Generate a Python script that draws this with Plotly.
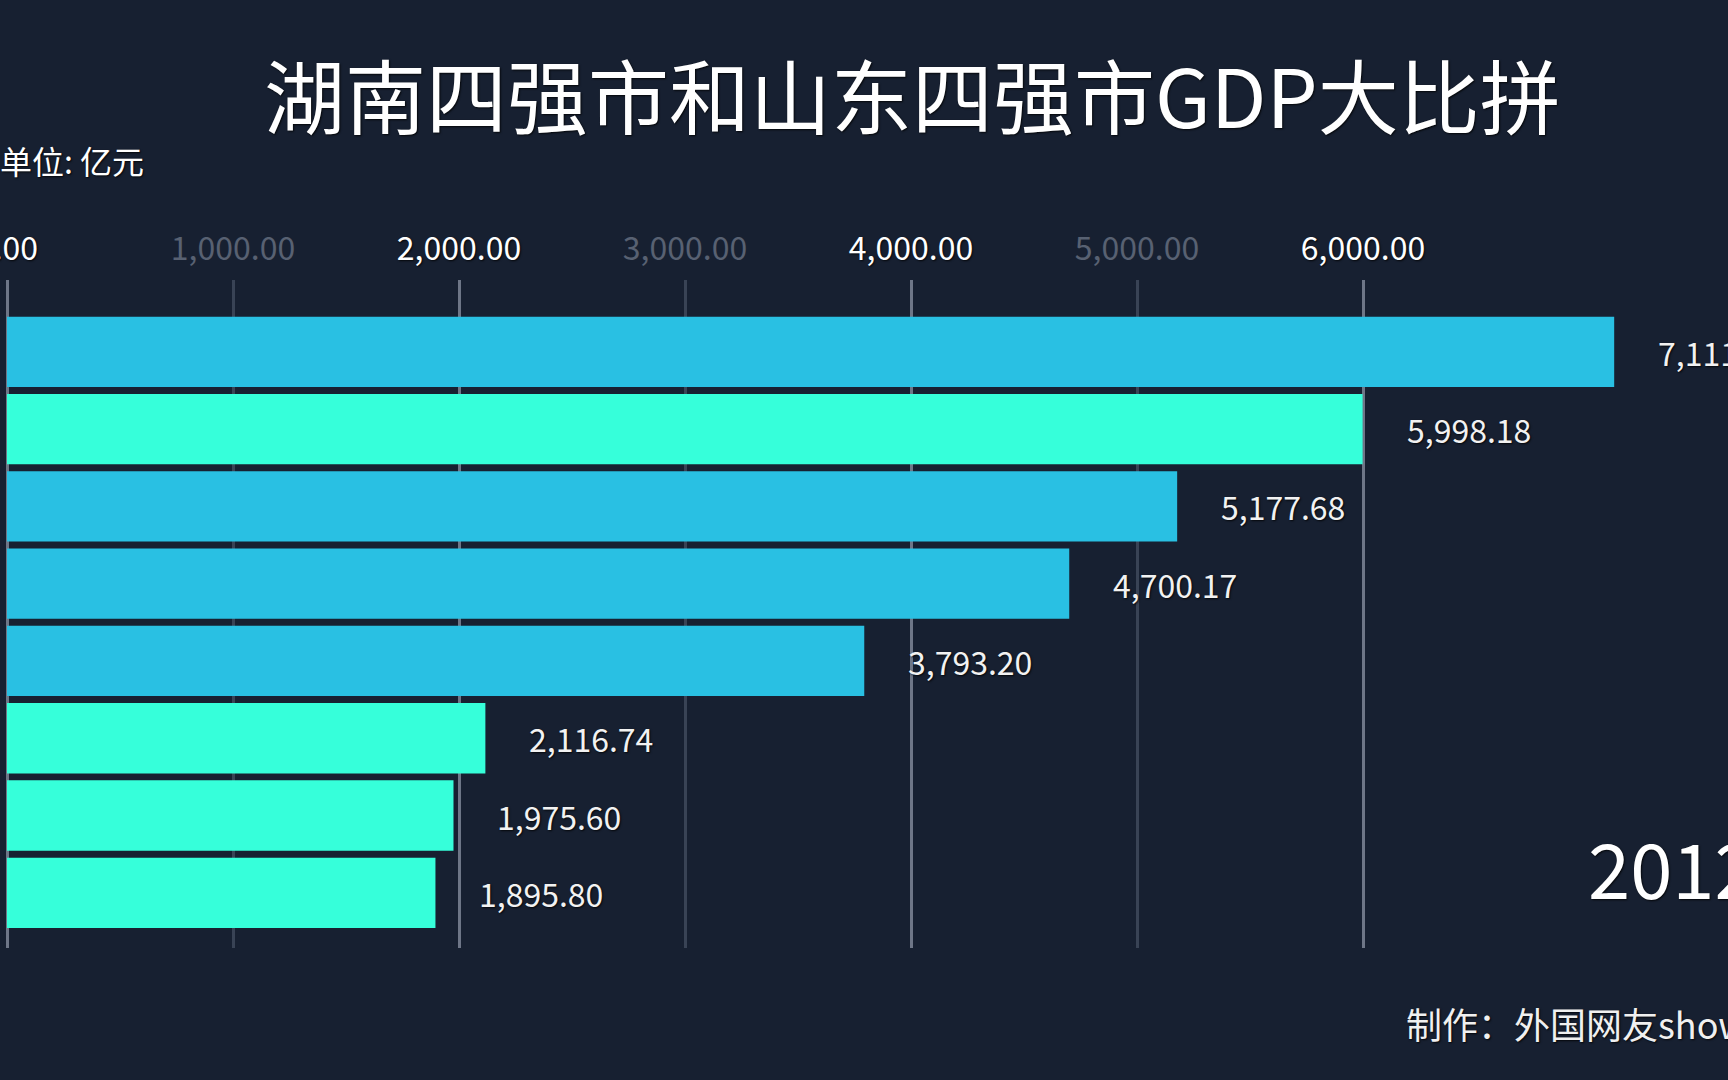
import plotly.graph_objects as go

# ---- data ----
cities = ["青岛", "长沙", "烟台", "济南", "潍坊", "岳阳", "常德", "衡阳"]
gdp = [7111.46, 5998.18, 5177.68, 4700.17, 3793.20, 2116.74, 1975.60, 1895.80]
province = ["山东", "湖南", "山东", "山东", "山东", "湖南", "湖南", "湖南"]
major_ticks = [0, 2000, 4000, 6000]
minor_ticks = [1000, 3000, 5000]
year = "2012"
title = "湖南四强市和山东四强市GDP大比拼"
unit = "单位: 亿元"
credit = "制作：外国网友show"

colors = {"山东": "#29C0E3", "湖南": "#36FFDA"}
BG = "#172031"
FONT = "Noto Sans CJK SC"

W, H = 1728, 1080
ML, MR, MT, MB = 0, 0, 280, 132
PX_PER_UNIT = 0.226
ZERO_PX = 7
xmin = -(ZERO_PX - ML) / PX_PER_UNIT
xmax = xmin + (W - ML - MR) / PX_PER_UNIT


def px(x):
    return (x - ML) / (W - ML - MR)


def py(y):
    return (H - MB - y) / (H - MT - MB)


fig = go.Figure()
fig.add_trace(go.Bar(
    x=gdp, y=cities, orientation="h",
    marker=dict(color=[colors[p] for p in province], line=dict(width=0)),
    hoverinfo="skip", showlegend=False,
))
# invisible companion trace so the secondary (dim) tick axis is drawn
fig.add_trace(go.Scatter(
    x=gdp, y=cities, xaxis="x2", mode="markers",
    marker=dict(opacity=0), hoverinfo="skip", showlegend=False,
))

shadow = "1px 1px 2px rgba(0,0,0,0.8)"
annotations = []
for c, v in zip(cities, gdp):
    annotations.append(dict(
        x=v, y=c, xref="x", yref="y", text=f"{v:,.2f}", showarrow=False,
        xanchor="left", yanchor="middle", xshift=42,
        font=dict(family=FONT, size=32, color="#F2F2F2", shadow=shadow),
    ))

annotations += [
    dict(x=px(912), y=py(92.5), xref="paper", yref="paper", text=title,
         showarrow=False, xanchor="center", yanchor="middle",
         font=dict(family=FONT, size=81, color="#FFFFFF", shadow=shadow)),
    dict(x=px(-2), y=py(160), xref="paper", yref="paper", text=unit,
         showarrow=False, xanchor="left", yanchor="middle",
         font=dict(family=FONT, size=32, color="#FFFFFF", shadow=shadow)),
    dict(x=px(1586), y=py(866), xref="paper", yref="paper", text=year,
         showarrow=False, xanchor="left", yanchor="middle",
         font=dict(family=FONT, size=76, color="#FFFFFF", shadow=shadow)),
    dict(x=px(1404), y=py(1023), xref="paper", yref="paper", text=credit,
         showarrow=False, xanchor="left", yanchor="middle",
         font=dict(family=FONT, size=36, color="#F0F0F0", shadow=shadow)),
]

common_axis = dict(
    side="top", range=[xmin, xmax], zeroline=False, showline=False,
    ticks="outside", ticklen=6, tickcolor="rgba(0,0,0,0)",
    ticklabeloverflow="allow",
    automargin=False, fixedrange=True,
)

fig.update_layout(
    width=W, height=H,
    margin=dict(l=ML, r=MR, t=MT, b=MB, autoexpand=False),
    paper_bgcolor=BG, plot_bgcolor=BG,
    bargap=0.09,
    annotations=annotations,
    xaxis=dict(
        **common_axis,
        tickvals=major_ticks, ticktext=[f"{t:,.2f}" for t in major_ticks],
        tickfont=dict(family=FONT, size=32, color="#FFFFFF", shadow=shadow),
        showgrid=True, gridcolor="#6E7687", gridwidth=2.5,
    ),
    xaxis2=dict(
        **common_axis, overlaying="x", anchor="y",
        tickvals=minor_ticks, ticktext=[f"{t:,.2f}" for t in minor_ticks],
        tickfont=dict(family=FONT, size=32, color="#586172"),
        showgrid=True, gridcolor="#394355", gridwidth=2.5,
    ),
    yaxis=dict(
        range=[7.714, -0.929], showticklabels=False, showgrid=False,
        zeroline=False, showline=False, automargin=False, fixedrange=True,
    ),
)

fig.write_html("out.html", config={"displayModeBar": False},
               post_script="document.body.style.margin='0';")
